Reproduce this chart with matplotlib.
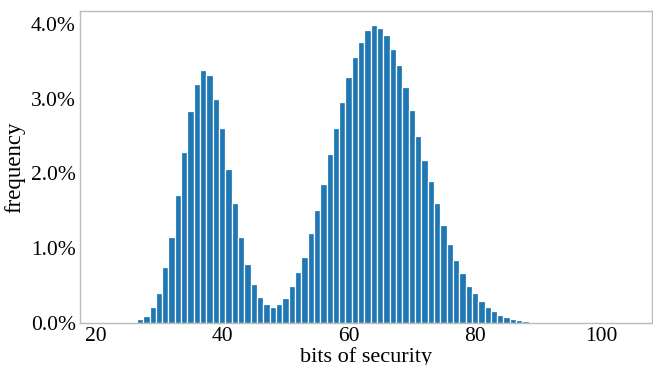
import matplotlib
matplotlib.use("Agg")
import matplotlib.pyplot as plt
from matplotlib.ticker import FuncFormatter

bits = list(range(24, 95))
freq_pct = [0.003, 0.008, 0.017, 0.05, 0.10, 0.21, 0.40, 0.745, 1.155, 1.71,
            2.29, 2.83, 3.19, 3.38, 3.31, 3.0, 2.60, 2.06, 1.60, 1.15,
            0.79, 0.52, 0.35, 0.26, 0.22, 0.26, 0.34, 0.50, 0.68, 0.88,
            1.20, 1.51, 1.855, 2.26, 2.61, 2.95, 3.29, 3.555, 3.76, 3.915,
            3.98, 3.94, 3.85, 3.66, 3.45, 3.15, 2.85, 2.50, 2.18, 1.90,
            1.60, 1.31, 1.057, 0.84, 0.665, 0.50, 0.405, 0.30, 0.22, 0.157,
            0.11, 0.076, 0.05, 0.034, 0.022, 0.014, 0.009, 0.006, 0.004, 0.002,
            0.001]
freq = [v / 100 for v in freq_pct]

xticks = [20, 40, 60, 80, 100]
yticks = [0.0, 0.01, 0.02, 0.03, 0.04]

plt.rcParams['font.family'] = ['Liberation Serif', 'DejaVu Serif']

fig = plt.figure(figsize=(6.53, 3.65), dpi=100)
ax = fig.add_axes([0.1225, 0.115, 0.876, 0.855])
ax.bar(bits, freq, width=1.0, color='#1f77b4', edgecolor='white', linewidth=0.9)
ax.set_xlim(17.5, 108)
ax.set_ylim(0, 0.0417)
ax.set_xticks(xticks)
ax.set_yticks(yticks)
ax.yaxis.set_major_formatter(FuncFormatter(lambda v, p: f"{v*100:.1f}%"))
ax.tick_params(length=0, labelsize=15.5, pad=3)
for s in ax.spines.values():
    s.set_color('#bbbbbb')
    s.set_linewidth(1.0)
ax.set_xlabel('bits of security', fontsize=16, labelpad=1)
ax.set_ylabel('frequency', fontsize=16.5, labelpad=4)
fig.savefig('out.png', dpi=100)
